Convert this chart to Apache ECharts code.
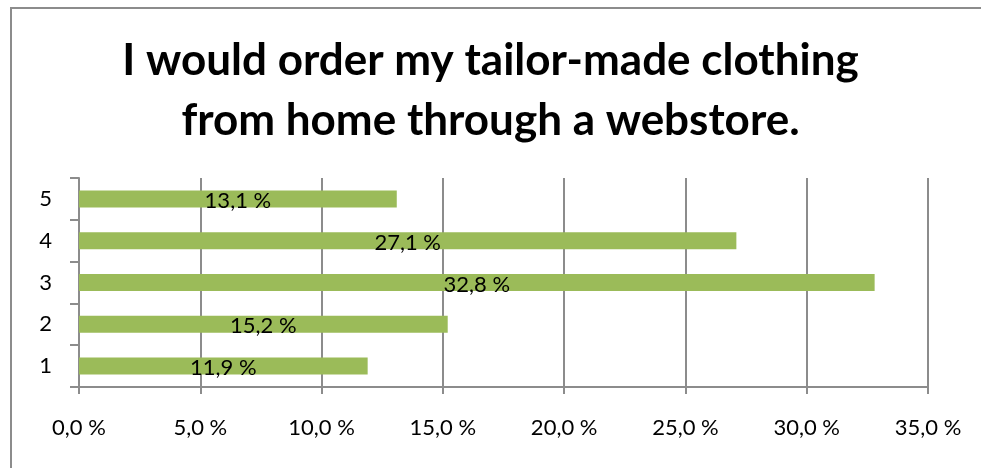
<!DOCTYPE html>
<html>
<head>
<meta charset="utf-8">
<script src="https://cdn.jsdelivr.net/npm/echarts@6/dist/echarts.min.js"></script>
<style>
  html, body { margin: 0; padding: 0; background: #fff; }
  #chart { width: 981px; height: 468px; }
</style>
</head>
<body>
<div id="chart"></div>
<script>
// Answer scale (1-5) and share of respondents per answer, in percent
const categories = ['1', '2', '3', '4', '5'];
const shares = [11.9, 15.2, 32.8, 27.1, 13.1];
const titleLines = ['I would order my tailor-made clothing', 'from home through a webstore.'];

const FONT = 'Lato, "Open Sans", sans-serif';
const pct = v => v.toFixed(1).replace('.', ',') + ' %';

const chart = echarts.init(document.getElementById('chart'), null, { renderer: 'canvas' });
chart.setOption({
  backgroundColor: '#fff',
  animation: false,
  graphic: [{
    // chart-area frame: left and top edges, the rest runs off the canvas
    type: 'polyline',
    shape: { points: [[11, 490], [11, 8], [1000, 8]] },
    style: { fill: null, stroke: '#8c8c8c', lineWidth: 2 },
    silent: true
  }],
  title: {
    text: titleLines.join('\n'),
    left: 'center',
    top: 26,
    textStyle: {
      fontFamily: FONT, fontWeight: 'bold', fontSize: 44,
      lineHeight: 60, color: '#000'
    }
  },
  grid: { left: 79, right: 53, top: 178, bottom: 81, containLabel: false },
  xAxis: {
    type: 'value',
    min: 0, max: 35, interval: 5,
    axisLine: { show: true, lineStyle: { color: '#8c8c8c', width: 2 } },
    axisTick: { show: true, length: 7, lineStyle: { color: '#8c8c8c', width: 2 } },
    splitLine: { show: true, lineStyle: { color: '#8c8c8c', width: 2 } },
    axisLabel: {
      margin: 30, color: '#000', fontFamily: FONT, fontSize: 22,
      formatter: pct
    }
  },
  yAxis: {
    type: 'category',
    data: categories,
    axisLine: { show: true, lineStyle: { color: '#8c8c8c', width: 2 } },
    axisTick: { show: true, length: 9, alignWithLabel: false, lineStyle: { color: '#8c8c8c', width: 2 } },
    splitLine: { show: false },
    axisLabel: { margin: 27, color: '#000', fontFamily: FONT, fontSize: 22 }
  },
  series: [{
    type: 'bar',
    data: shares,
    barWidth: 17,
    itemStyle: { color: '#9bbb59' },
    label: {
      show: true,
      position: 'inside',
      offset: [0, 2],
      color: '#000',
      fontFamily: FONT,
      fontSize: 22,
      formatter: p => pct(p.value)
    }
  }]
});
</script>
</body>
</html>
